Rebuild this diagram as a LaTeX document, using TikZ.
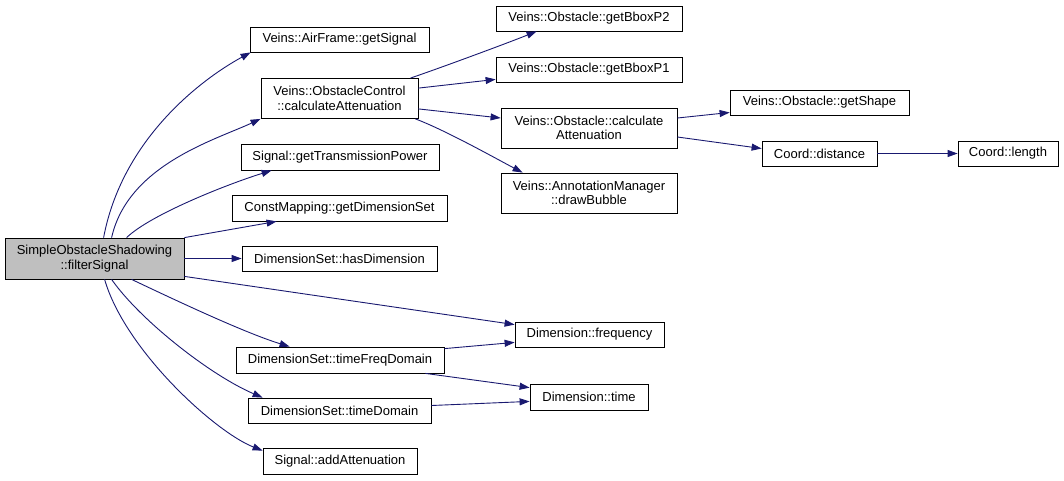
\documentclass[tikz,border=0pt]{standalone}
\usepackage{fontspec}
\setmainfont{Liberation Sans}
\usetikzlibrary{arrows.meta,calc}
\definecolor{edgeblue}{HTML}{191970}
\definecolor{rootgray}{HTML}{BFBFBF}
\begin{document}
\begin{tikzpicture}[x=1pt,y=-1pt,
  fn/.style={draw=black, line width=0.8pt, fill=white, inner sep=0pt,
    font=\fontsize{13}{14.5}\selectfont, align=center},
  root/.style={fn, fill=rootgray},
  call/.style={draw=edgeblue, line width=0.9pt, -{Triangle[length=10pt,width=7pt]}}]
\useasboundingbox (0,0) rectangle (1064,480);

% nodes
\node[root, minimum width=179pt, minimum height=41pt] (fs) at (94.5,258.5) {SimpleObstacleShadowing\\::filterSignal};
\node[fn, minimum width=179pt, minimum height=25pt] (af) at (339.5,39.5) {Veins::AirFrame::getSignal};
\node[fn, minimum width=157pt, minimum height=40pt] (oc) at (339.5,98.5) {Veins::ObstacleControl\\::calculateAttenuation};
\node[fn, minimum width=198pt, minimum height=26pt] (tp) at (340,157) {Signal::getTransmissionPower};
\node[fn, minimum width=215pt, minimum height=26pt] (cm) at (339.5,208) {ConstMapping::getDimensionSet};
\node[fn, minimum width=195pt, minimum height=25pt] (hd) at (339.5,258.5) {DimensionSet::hasDimension};
\node[fn, minimum width=208pt, minimum height=26pt] (tfd) at (340,360) {DimensionSet::timeFreqDomain};
\node[fn, minimum width=183pt, minimum height=25pt] (td) at (339.5,410.5) {DimensionSet::timeDomain};
\node[fn, minimum width=154pt, minimum height=26pt] (aa) at (340,461) {Signal::addAttenuation};
\node[fn, minimum width=186pt, minimum height=25pt] (bp2) at (589,18.5) {Veins::Obstacle::getBboxP2};
\node[fn, minimum width=186pt, minimum height=25pt] (bp1) at (589,69.5) {Veins::Obstacle::getBboxP1};
\node[fn, minimum width=176pt, minimum height=40pt] (ocalc) at (589,128) {Veins::Obstacle::calculate\\Attenuation};
\node[fn, minimum width=176pt, minimum height=40pt] (db) at (589,193) {Veins::AnnotationManager\\::drawBubble};
\node[fn, minimum width=179pt, minimum height=25pt] (gs) at (819.5,102.5) {Veins::Obstacle::getShape};
\node[fn, minimum width=115pt, minimum height=25pt] (cd) at (819.5,153.5) {Coord::distance};
\node[fn, minimum width=100pt, minimum height=25pt] (cl) at (1008,153.5) {Coord::length};
\node[fn, minimum width=149pt, minimum height=25pt] (fr) at (589.5,334.5) {Dimension::frequency};
\node[fn, minimum width=118pt, minimum height=26pt] (tm) at (589,397) {Dimension::time};

% edges from filterSignal
\draw[call] ($(fs.north west)+(99,0)$) .. controls (122,140) and (200,80) .. ($(af.south west)+(1,0)$);
\draw[call] ($(fs.north west)+(107,0)$) .. controls (128,165) and (215,140) .. (oc.south west);
\draw[call] ($(fs.north west)+(122,0)$) .. controls (150,215) and (225,185) .. ($(tp.south west)+(31,0)$);
\draw[call] (fs.north east) -- ($(cm.south west)+(45,0)$);
\draw[call] (fs.east) -- (hd.west);
\draw[call] ($(fs.south east)+(0,-3)$) -- ($(fr.north west)+(0,3)$);
\draw[call] ($(fs.south west)+(127,0)$) .. controls (175,300) and (245,333) .. ($(tfd.north west)+(54,0)$);
\draw[call] ($(fs.south west)+(107,0)$) .. controls (140,320) and (210,375) .. ($(td.north west)+(15,0)$);
\draw[call] ($(fs.south west)+(100,0)$) .. controls (125,350) and (215,432) .. ($(aa.north west)+(0,3)$);

% edges from ObstacleControl
\draw[call] ($(oc.north east)+(-8,0)$) .. controls (440,68) and (505,44) .. ($(bp2.south west)+(41,0)$);
\draw[call] ($(oc.north east)+(0,10)$) -- ($(bp1.south west)+(0,-3)$);
\draw[call] ($(oc.south east)+(0,-10)$) -- ($(ocalc.west)+(0,-10)$);
\draw[call] ($(oc.south east)+(-3,0)$) .. controls (445,130) and (495,158) .. ($(db.north west)+(22,0)$);

% edges from Obstacle::calculateAttenuation
\draw[call] ($(ocalc.east)+(0,-10)$) -- ($(gs.west)+(0,10)$);
\draw[call] ($(ocalc.east)+(0,9)$) -- ($(cd.west)+(0,-5)$);
\draw[call] (cd.east) -- (cl.west);

% dimension edges
\draw[call] ($(tfd.north east)+(0,2)$) -- ($(fr.south west)+(0,-5)$);
\draw[call] ($(tfd.south east)+(-19,0)$) -- ($(tm.north west)+(0,4)$);
\draw[call] ($(td.east)+(0,-5)$) -- ($(tm.south west)+(0,-9)$);
\end{tikzpicture}
\end{document}
